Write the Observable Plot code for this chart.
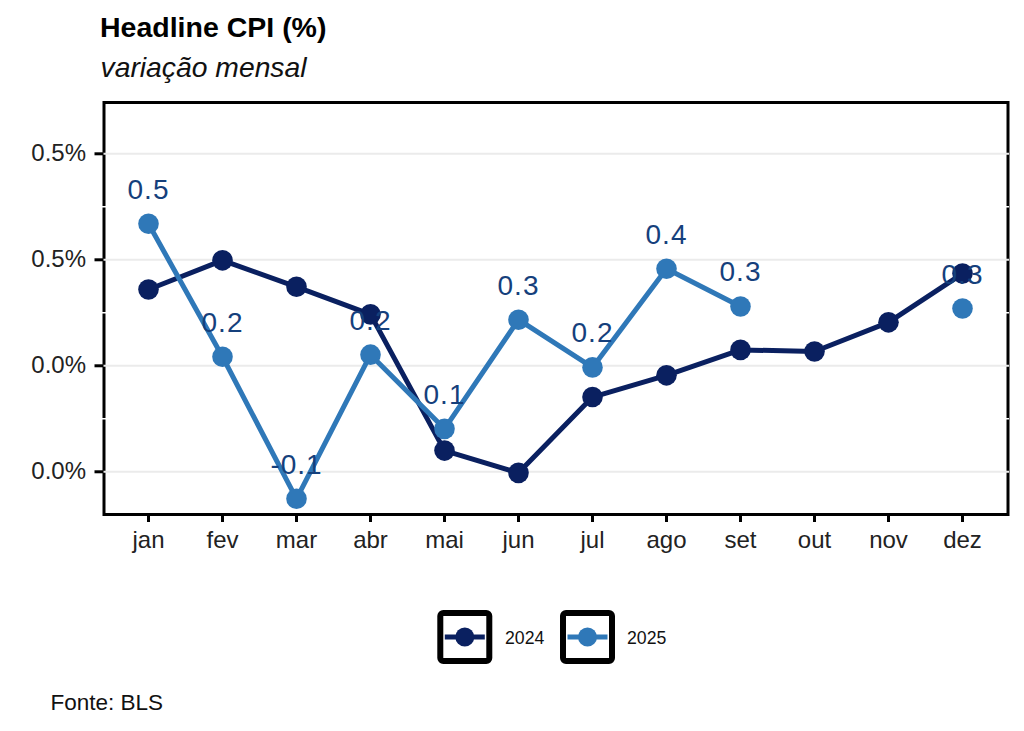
<!DOCTYPE html>
<html>
<head>
<meta charset="utf-8">
<script src="https://cdn.jsdelivr.net/npm/d3@7"></script>
<script src="https://cdn.jsdelivr.net/npm/@observablehq/plot@0.6"></script>
<style>
  html, body { margin: 0; padding: 0; background: #fff; }
  body { width: 1024px; height: 731px; overflow: hidden; position: relative;
         font-family: "Liberation Sans", Arial, Helvetica, sans-serif; }
  #overlay, #chart { position: absolute; left: 0; top: 0; }
</style>
</head>
<body>
<div id="overlay"></div>
<div id="chart"></div>
<script>
// ---- data ----
const months = ["jan","fev","mar","abr","mai","jun","jul","ago","set","out","nov","dez"];
const cpi2024 = [0.344, 0.399, 0.349, 0.297, 0.040, -0.002, 0.141, 0.182, 0.230, 0.227, 0.282, 0.374];
const cpi2025 = [0.468, 0.217, -0.051, 0.221, 0.081, 0.287, 0.197, 0.383, 0.312, null, null, 0.308];
const years = ["2024", "2025"];
const colors = ["#0a2060", "#2f78b8"];
const labelColor = "#15407c";
const yTicks = [0, 0.2, 0.4, 0.6];
const yTickLabels = ["0.0%", "0.0%", "0.5%", "0.5%"];
const yMinor = [0.1, 0.3, 0.5];
const title = "Headline CPI (%)";
const subtitle = "variação mensal";
const caption = "Fonte: BLS";

const rows = [];
months.forEach((m, i) => {
  rows.push({month: m, year: "2024", value: cpi2024[i]});
  rows.push({month: m, year: "2025", value: cpi2025[i]});
});
const r2024 = rows.filter(d => d.year === "2024");
const r2025 = rows.filter(d => d.year === "2025");
const r2025def = r2025.filter(d => d.value != null);

const FONT = "'Liberation Sans', Arial, Helvetica, sans-serif";

// ---- chart ----
const chart = Plot.plot({
  width: 1024,
  height: 580,
  marginLeft: 103.5,
  marginRight: 16.5,
  marginTop: 102,
  marginBottom: 66,
  style: {fontFamily: FONT, background: "transparent", color: "#000", overflow: "visible"},
  x: {type: "point", domain: months, range: [146.6, 962.8], padding: 0, axis: null, label: null},
  y: {domain: [-0.0806, 0.6968], axis: null, label: null},
  marks: [
    Plot.frame({stroke: "#000", strokeWidth: 3}),
    Plot.ruleY(yTicks, {stroke: "#ebebeb", strokeWidth: 2, insetLeft: -1.5, insetRight: -1.5}),
    Plot.ruleY(yMinor, {stroke: "#ffffff", strokeWidth: 1.5, insetLeft: -1.5, insetRight: -1.5}),
    Plot.axisY(yTicks, {
      tickFormat: d => yTickLabels[yTicks.indexOf(d)],
      tickSize: 9, tickPadding: 9, strokeWidth: 3, fontSize: 24,
      fill: "#222", stroke: "#000", label: null
    }),
    Plot.axisX({tickSize: 8, tickPadding: 8.7, strokeWidth: 3, fontSize: 24, fill: "#222", stroke: "#000", label: null}),
    Plot.line(r2024, {x: "month", y: "value", stroke: colors[0], strokeWidth: 5}),
    Plot.dot(r2024, {x: "month", y: "value", fill: colors[0], r: 10.3}),
    Plot.line(r2025, {x: "month", y: "value", stroke: colors[1], strokeWidth: 5}),
    Plot.dot(r2025def, {x: "month", y: "value", fill: colors[1], r: 10.3}),
    Plot.text(r2025def, {
      x: "month", y: "value", text: d => d.value.toFixed(1),
      dy: -34, fontSize: 28, fill: labelColor
    })
  ]
});
d3.select(chart).selectAll('g[aria-label="text"] text').attr("letter-spacing", "1px");
document.getElementById("chart").appendChild(chart);

// ---- title, subtitle, caption, legend ----
const ov = d3.select("#overlay").append("svg")
  .attr("width", 1024).attr("height", 731)
  .style("font-family", FONT);

ov.append("text").attr("x", 100).attr("y", 36.7)
  .attr("font-size", 28.5).attr("font-weight", "bold").attr("fill", "#000").text(title);
ov.append("text").attr("x", 100.5).attr("y", 77.3)
  .attr("font-size", 28.3).attr("font-style", "italic").attr("fill", "#111").text(subtitle);
ov.append("text").attr("x", 50.5).attr("y", 710)
  .attr("font-size", 22.5).attr("fill", "#111").text(caption);

const legendKeys = [
  {year: years[0], color: colors[0], boxX: 440.3, textX: 505},
  {year: years[1], color: colors[1], boxX: 563, textX: 627}
];
legendKeys.forEach(k => {
  const g = ov.append("g");
  g.append("rect").attr("x", k.boxX).attr("y", 613).attr("width", 49).attr("height", 48)
    .attr("rx", 3).attr("fill", "#fff").attr("stroke", "#000").attr("stroke-width", 6);
  g.append("line").attr("x1", k.boxX + 4.5).attr("x2", k.boxX + 44.5)
    .attr("y1", 637).attr("y2", 637).attr("stroke", k.color).attr("stroke-width", 5);
  g.append("circle").attr("cx", k.boxX + 24.5).attr("cy", 637).attr("r", 9.5).attr("fill", k.color);
  g.append("text").attr("x", k.textX).attr("y", 644.3).attr("font-size", 17.7)
    .attr("fill", "#111").text(k.year);
});
</script>
</body>
</html>
